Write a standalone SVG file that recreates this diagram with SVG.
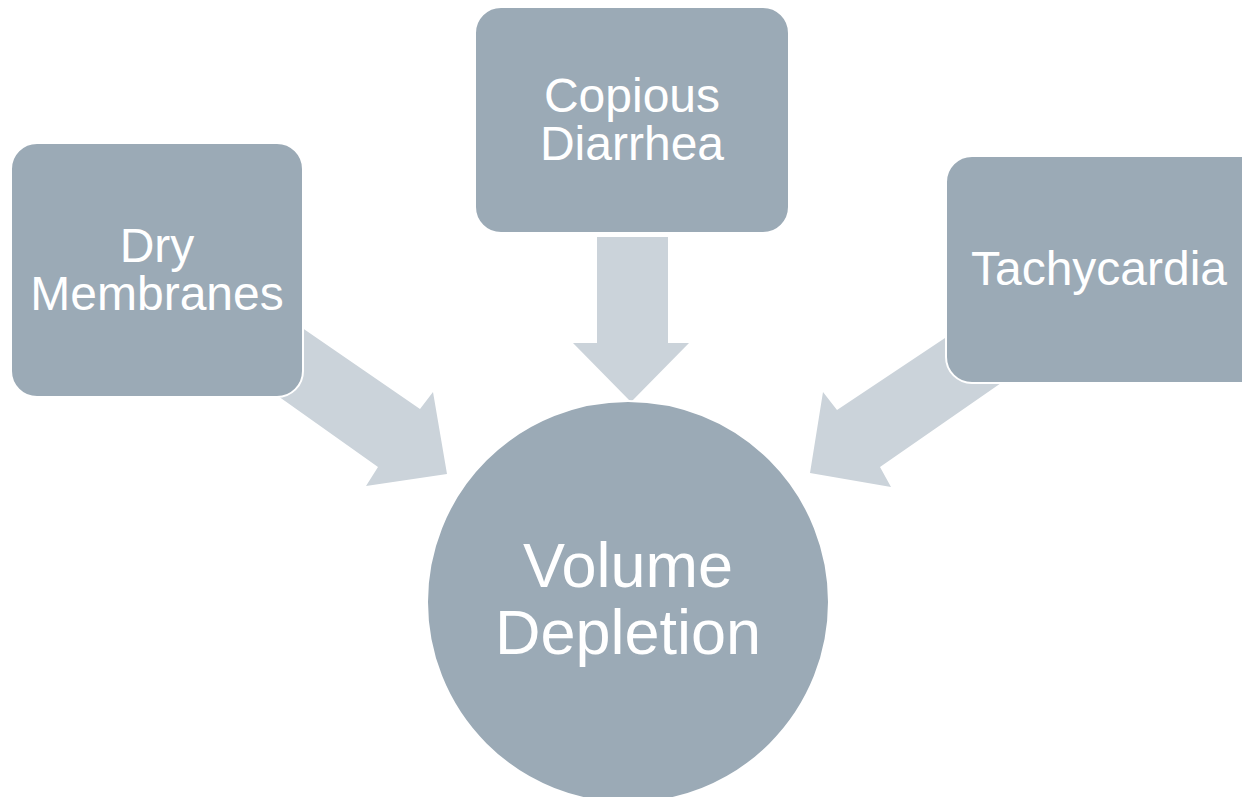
<svg xmlns="http://www.w3.org/2000/svg" width="1242" height="797" viewBox="0 0 1242 797">
  <style>
    .box { fill: #9BAAB6; stroke: #FFFFFF; stroke-width: 2; }
    .arrow { fill: #CBD3DA; }
    .label { fill: #FFFFFF; font-family: "Liberation Sans", Arial, sans-serif; font-size: 48px; text-anchor: middle; }
    .big { font-size: 63px; }
  </style>
  <rect width="1242" height="797" fill="#FFFFFF"/>

  <!-- block arrows pointing into the centre circle -->
  <g id="connectors">
    <polygon class="arrow" points="250,292 420,409 433,392 447,474 366,486 378,467 230,362"/>
    <polygon class="arrow" points="597,237 668,237 668,343 689,343 631,402 573,343 597,343"/>
    <polygon class="arrow" points="990,308 837,410 823,392 810,473 891,487 880,467 1030,363"/>
  </g>

  <g id="node-dry-membranes">
    <rect class="box" x="11" y="143" width="292" height="254" rx="26"/>
    <text class="label" x="157" y="262">Dry</text>
    <text class="label" x="157" y="310">Membranes</text>
  </g>

  <g id="node-copious-diarrhea">
    <rect class="box" x="475" y="7" width="314" height="226" rx="26"/>
    <text class="label" x="632" y="112">Copious</text>
    <text class="label" x="632" y="160">Diarrhea</text>
  </g>

  <g id="node-tachycardia">
    <rect class="box" x="946" y="156" width="320" height="227" rx="26"/>
    <text class="label" x="1099" y="285">Tachycardia</text>
  </g>

  <g id="node-volume-depletion">
    <circle class="box" cx="628" cy="602" r="201"/>
    <text class="label big" x="628" y="587">Volume</text>
    <text class="label big" x="628" y="654">Depletion</text>
  </g>
</svg>
